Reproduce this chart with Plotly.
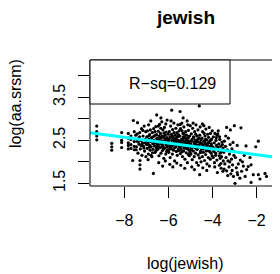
import plotly.graph_objects as go

# ---- data ----
log_jewish = [
    -9.25, -9.25, -9.25, -9.25, -8.57, -8.57, -8.57, -8.12, -8.12, -8.12, -8.12,
    -7.82, -7.82, -7.82, -7.82, -7.82, -7.70, -7.70, -7.70, -7.70, -7.62, -7.59, -7.55, -7.55, -7.55, -7.55,
    -7.48, -7.45, -7.42, -7.40, -7.38, -7.35, -7.33, -7.30, -7.29, -7.27, -7.25, -7.22, -7.20, -7.18, -7.15, -7.13,
    -7.10, -7.08, -7.05, -7.03, -7.46, -7.37, -7.31, -7.24, -7.16, -7.11, -7.06, -7.29, -7.29, -7.02, -7.41, -7.19,
    -6.98, -6.96, -6.95, -6.93, -6.91, -6.90, -6.88, -6.86, -6.85, -6.83, -6.81, -6.80, -6.78, -6.76, -6.75, -6.73,
    -6.71, -6.70, -6.68, -6.67, -6.65, -6.63, -6.62, -6.60, -6.58, -6.57, -6.55, -6.53, -6.52, -6.51, -6.97, -6.92,
    -6.87, -6.82, -6.77, -6.72, -6.66, -6.61, -6.56, -6.99, -6.89, -6.79, -6.69, -6.59, -6.54,
    -6.49, -6.48, -6.46, -6.45, -6.43, -6.42, -6.40, -6.39, -6.37, -6.36, -6.34, -6.33, -6.31, -6.30, -6.28, -6.27,
    -6.25, -6.24, -6.22, -6.21, -6.19, -6.18, -6.16, -6.15, -6.13, -6.12, -6.10, -6.09, -6.07, -6.06, -6.04, -6.03,
    -6.01, -6.47, -6.41, -6.35, -6.29, -6.23, -6.17, -6.11, -6.05, -6.44, -6.26, -6.14, -6.38, -6.32, -6.20, -6.08,
    -6.02, -6.46, -6.34, -6.22, -6.12, -6.06, -6.28,
    -5.99, -5.98, -5.96, -5.95, -5.93, -5.92, -5.90, -5.89, -5.87, -5.86, -5.85, -5.84, -5.82, -5.81, -5.79, -5.78,
    -5.76, -5.75, -5.73, -5.72, -5.70, -5.69, -5.67, -5.66, -5.64, -5.63, -5.61, -5.60, -5.58, -5.57, -5.55, -5.54,
    -5.52, -5.51, -5.97, -5.91, -5.83, -5.77, -5.71, -5.65, -5.59, -5.53, -5.94, -5.80, -5.62, -5.88, -5.74, -5.68,
    -5.56, -5.47, -5.95, -5.85, -5.75, -5.65, -5.55, -5.90, -5.80, -5.70, -5.60, -5.50,
    -5.49, -5.48, -5.46, -5.45, -5.43, -5.42, -5.40, -5.39, -5.37, -5.36, -5.34, -5.33, -5.31, -5.30, -5.28, -5.27,
    -5.25, -5.24, -5.22, -5.21, -5.19, -5.18, -5.16, -5.15, -5.13, -5.12, -5.10, -5.09, -5.07, -5.06, -5.04, -5.03,
    -5.01, -5.47, -5.41, -5.35, -5.29, -5.23, -5.17, -5.11, -5.05, -5.44, -5.26, -5.14, -5.38, -5.32, -5.20, -5.08,
    -5.02, -5.46, -5.33, -5.22, -5.12, -5.05, -5.28, -5.40, -5.18, -5.10, -5.36, -5.24,
    -4.99, -4.98, -4.96, -4.95, -4.93, -4.92, -4.90, -4.89, -4.87, -4.86, -4.84, -4.83, -4.81, -4.80, -4.78, -4.77,
    -4.75, -4.74, -4.72, -4.71, -4.69, -4.68, -4.66, -4.65, -4.63, -4.62, -4.60, -4.59, -4.58, -4.57, -4.56, -4.54,
    -4.53, -4.51, -4.97, -4.91, -4.85, -4.79, -4.73, -4.67, -4.61, -4.55, -4.94, -4.82, -4.64, -4.88, -4.76, -4.70,
    -4.58, -4.52, -4.95, -4.85, -4.75, -4.65, -4.55,
    -4.49, -4.48, -4.46, -4.45, -4.43, -4.42, -4.40, -4.39, -4.37, -4.36, -4.34, -4.33, -4.31, -4.30, -4.28, -4.27,
    -4.25, -4.24, -4.22, -4.21, -4.19, -4.18, -4.16, -4.15, -4.13, -4.12, -4.10, -4.09, -4.07, -4.06, -4.04, -4.03,
    -4.01, -4.47, -4.41, -4.35, -4.29, -4.23, -4.17, -4.11, -4.05, -4.44, -4.26, -4.14, -4.38, -4.32, -4.20, -4.08,
    -4.02, -4.46,
    -3.99, -3.97, -3.96, -3.94, -3.92, -3.91, -3.89, -3.87, -3.86, -3.84, -3.82, -3.80, -3.79, -3.76, -3.74, -3.73,
    -3.71, -3.69, -3.67, -3.65, -3.63, -3.61, -3.59, -3.57, -3.55, -3.53, -3.51, -3.95, -3.85, -3.75, -3.65, -3.55,
    -3.90, -3.78, -3.62, -3.68, -3.58, -3.83, -3.70, -3.52,
    -3.49, -3.46, -3.44, -3.41, -3.39, -3.36, -3.36, -3.33, -3.30, -3.28, -3.25, -3.23, -3.20, -3.19, -3.17, -3.14,
    -3.12, -3.09, -3.07, -3.05, -3.03, -3.01, -3.47, -3.40, -3.31, -3.22, -3.11, -3.04,
    -2.98, -2.96, -2.92, -2.88, -2.86, -2.83, -2.80, -2.76, -2.74, -2.71, -2.68, -2.64, -2.60, -2.56, -2.52, -2.88,
    -2.48, -2.45, -2.38, -2.30, -2.25, -2.25, -2.15, -2.04,
    -1.92, -1.92, -1.85, -1.62, -1.55, -1.20,
]

log_aa_srsm = [
    2.83, 2.70, 2.60, 2.51, 2.43, 2.35, 2.27, 2.68, 2.45, 2.33, 2.50,
    2.66, 2.55, 2.44, 2.30, 2.38, 2.52, 2.40, 2.31, 2.60, 2.03, 2.96, 2.47, 2.36, 2.28, 2.70,
    2.62, 2.35, 2.48, 2.91, 2.20, 2.55, 2.41, 2.68, 1.93, 2.30, 2.50, 2.77, 2.15, 2.44, 2.60, 2.36,
    2.83, 2.25, 2.52, 2.70, 2.28, 2.46, 2.58, 2.38, 2.73, 2.32, 2.44, 1.83, 2.03, 2.12, 2.65, 2.42,
    2.58, 2.31, 2.72, 2.44, 2.18, 2.86, 2.52, 2.39, 2.63, 2.27, 2.47, 2.95, 2.35, 2.56, 2.12, 2.68,
    2.42, 2.29, 1.73, 2.77, 2.50, 2.37, 2.61, 2.22, 2.45, 2.82, 2.33, 3.09, 2.55, 2.40, 2.46, 2.05,
    2.34, 2.74, 2.49, 2.21, 2.43, 2.70, 2.26, 2.40, 2.60, 2.15, 2.58, 2.48, 2.63,
    2.52, 2.29, 2.71, 2.40, 2.14, 2.60, 2.87, 2.46, 2.33, 2.66, 2.20, 2.55, 2.41, 2.93, 2.48, 2.26,
    2.74, 2.37, 2.58, 2.08, 2.44, 2.80, 2.32, 2.62, 2.50, 2.18, 2.69, 2.39, 2.56, 2.97, 2.28, 2.45,
    2.64, 2.36, 2.50, 2.78, 2.35, 2.47, 2.54, 2.42, 2.35, 1.98, 1.90, 2.02, 2.57, 2.44, 2.67, 2.24,
    2.51, 2.83, 3.02, 2.30, 2.88, 2.40, 2.60,
    2.47, 2.22, 2.70, 2.36, 2.58, 2.10, 2.83, 2.43, 2.31, 2.64, 3.20, 2.50, 2.18, 2.75, 2.39, 2.56,
    2.27, 2.90, 2.45, 2.02, 2.62, 2.34, 2.52, 2.78, 2.24, 2.41, 2.68, 2.15, 2.48, 2.86, 2.30, 2.59,
    2.38, 2.72, 2.53, 2.40, 2.60, 2.45, 2.33, 2.55, 2.42, 2.26, 1.94, 1.88, 1.97, 2.95, 2.68, 2.44,
    2.64, 3.17, 2.29, 2.37, 2.52, 2.37, 2.50, 2.57, 2.28, 2.48, 2.58, 2.46,
    2.35, 2.60, 2.19, 2.77, 2.44, 2.29, 2.53, 2.90, 2.38, 2.12, 2.66, 2.47, 2.25, 2.81, 2.41, 2.57,
    2.06, 2.34, 2.70, 2.49, 2.21, 2.62, 2.39, 2.95, 2.30, 2.55, 2.17, 2.73, 2.43, 2.27, 2.60, 2.36,
    2.84, 2.48, 2.36, 2.52, 2.32, 2.45, 2.50, 2.40, 2.48, 1.92, 1.85, 1.98, 2.72, 2.58, 2.31, 2.58,
    2.22, 2.87, 3.02, 2.40, 2.86, 2.14, 2.64, 2.23, 2.45, 2.33, 2.43, 2.55,
    2.42, 2.18, 2.65, 2.31, 2.52, 2.05, 2.78, 2.37, 2.25, 2.58, 2.45, 2.12, 2.70, 2.33, 2.50, 2.20,
    2.86, 2.40, 1.98, 2.60, 2.29, 2.47, 2.74, 2.16, 2.36, 2.55, 3.30, 2.09, 1.70, 2.43, 2.81, 2.24,
    2.52, 2.32, 2.48, 2.35, 2.56, 2.40, 2.30, 2.52, 2.38, 2.21, 1.88, 1.82, 1.92, 2.90, 2.64, 2.38,
    2.62, 2.00, 2.27, 2.35, 2.46, 2.33, 2.45,
    2.30, 2.55, 2.12, 2.70, 2.38, 2.22, 2.48, 2.84, 2.33, 2.03, 2.60, 2.42, 2.17, 2.76, 2.36, 2.51,
    1.95, 2.28, 2.64, 2.44, 2.10, 2.57, 2.32, 2.80, 2.24, 2.49, 2.06, 2.66, 2.38, 2.20, 2.53, 2.30,
    2.72, 2.42, 2.30, 2.46, 2.25, 2.38, 2.44, 2.34, 2.42, 1.86, 1.80, 1.90, 2.66, 2.52, 2.26, 2.50,
    2.14, 2.88,
    2.35, 2.10, 2.58, 2.24, 2.44, 1.98, 2.66, 2.30, 2.15, 2.50, 2.38, 2.04, 2.62, 2.65, 2.72, 2.26,
    2.42, 1.92, 2.52, 2.20, 2.36, 1.85, 2.12, 2.46, 2.28, 1.78, 2.02, 2.32, 2.20, 2.34, 2.08, 2.40,
    1.88, 1.75, 1.96, 2.58, 2.24, 2.56, 2.14, 2.32,
    2.22, 2.48, 1.95, 2.36, 2.10, 2.80, 1.79, 2.28, 2.02, 2.55, 1.88, 2.18, 2.40, 2.74, 1.72, 2.06,
    2.30, 1.93, 2.45, 1.66, 2.15, 2.84, 1.83, 2.60, 1.68, 2.00, 1.80, 2.24,
    1.50, 2.10, 1.86, 2.38, 1.70, 1.95, 2.22, 1.62, 2.04, 2.79, 1.78, 2.00, 1.90, 2.15, 1.66, 1.75,
    2.37, 1.82, 1.89, 2.10, 1.93, 1.52, 1.70, 2.35,
    2.48, 1.70, 1.60, 1.73, 1.66, 1.68,
]

fit_intercept = 2.031
fit_slope = -0.0675
r_squared = 0.129

x_tick_values = [-8, -6, -4, -2]
y_tick_values = [1.5, 2.0, 2.5, 3.0, 3.5, 4.0]
y_tick_labels = ["1.5", "", "2.5", "", "3.5", ""]

title_text = "jewish"
x_title = "log(jewish)"
y_title = "log(aa.srsm)"

# ---- layout geometry (page body has an 8px margin, so the figure is shifted by 8px) ----
W, H = 272, 266
L, T, B, R = 82, 52, 88, 0
x_range = [-9.556, -0.939]
y_range = [1.437, 4.367]
FONT = "Liberation Sans, Arial, Helvetica, sans-serif"
FS = 16

plot_h = H - T - B
plot_w = W - L - R

fig = go.Figure()

fig.add_trace(go.Scatter(
    x=log_jewish, y=log_aa_srsm, mode="markers",
    marker=dict(color="black", size=3.2, line=dict(width=0)),
    hoverinfo="skip", showlegend=False,
))

line_x = [x_range[0] - 1, x_range[1] + 1]
line_y = [fit_intercept + fit_slope * v for v in line_x]
fig.add_trace(go.Scatter(
    x=line_x, y=line_y, mode="lines",
    line=dict(color="#00FFFF", width=3),
    hoverinfo="skip", showlegend=False,
))

fig.update_layout(
    width=W, height=H,
    margin=dict(l=L, r=R, t=T, b=B, pad=0),
    paper_bgcolor="white", plot_bgcolor="white",
    font=dict(family=FONT, size=FS, color="black"),
    showlegend=False,
    title=dict(text="<b>%s</b>" % title_text, x=178 / W, xref="container", xanchor="center",
               y=1 - 9 / H, yref="container", yanchor="middle",
               font=dict(family=FONT, size=19, color="black")),
    xaxis=dict(range=x_range, tickvals=x_tick_values, ticks="outside", ticklen=11,
               tickwidth=1, tickcolor="black", showgrid=False, zeroline=False,
               showline=False, ticklabelstandoff=9,
               tickfont=dict(family=FONT, size=FS, color="black")),
    yaxis=dict(range=y_range, tickvals=y_tick_values, ticktext=y_tick_labels,
               ticks="outside", ticklen=11, tickwidth=1, tickcolor="black",
               showgrid=False, zeroline=False, showline=False, tickangle=-90,
               ticklabelstandoff=7,
               tickfont=dict(family=FONT, size=FS, color="black")),
)

# frame (extends past the right edge of the window, as in the reference)
fig.add_shape(type="rect", xref="paper", yref="paper", x0=0, x1=1.1, y0=0, y1=1,
              line=dict(color="black", width=1), fillcolor="rgba(0,0,0,0)", layer="above")

# R-squared box
box_w = (222 - L) / plot_w
box_h = (96 - T) / plot_h
fig.add_shape(type="rect", xref="paper", yref="paper", x0=0, x1=box_w, y0=1 - box_h, y1=1,
              line=dict(color="black", width=1), fillcolor="white", layer="above")
fig.add_annotation(text="R\u2212sq=%.3f" % r_squared, xref="paper", yref="paper",
                   x=(164 - L) / plot_w, y=1 - (75 - T) / plot_h, showarrow=False,
                   xanchor="center", yanchor="middle",
                   font=dict(family=FONT, size=FS, color="black"))

fig.add_annotation(text=x_title, xref="paper", yref="paper", x=(177 - L) / plot_w,
                   y=-(255 - (H - B)) / plot_h, showarrow=False, xanchor="center",
                   yanchor="middle", font=dict(family=FONT, size=FS, color="black"))
fig.add_annotation(text=y_title, xref="paper", yref="paper", x=(7 - L) / plot_w,
                   y=1 - (96 - T) / plot_h, showarrow=False, xanchor="center",
                   yanchor="middle", textangle=-90,
                   font=dict(family=FONT, size=FS, color="black"))

fig.write_html("out.html", config={"displayModeBar": False})
